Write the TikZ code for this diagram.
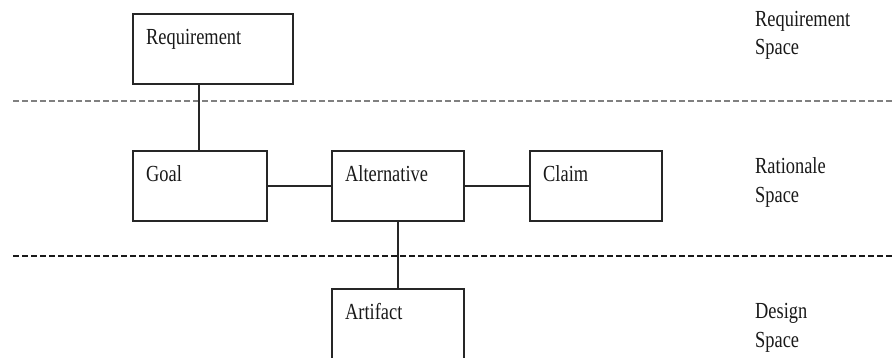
\documentclass[tikz,border=0pt]{standalone}
\usepackage{fontspec}
\setmainfont[FakeStretch=0.8]{Liberation Serif}
\usetikzlibrary{calc}
\begin{document}
\begin{tikzpicture}[x=1pt,y=-1pt,
  box/.style={draw=black!85,line width=2pt,rectangle,inner sep=0pt,minimum width=#1,minimum height=70pt},
  box/.default=132pt,
  lbl/.style={inner sep=0pt,anchor=base west,font=\fontsize{23}{27}\selectfont,text=black!90},
  conn/.style={draw=black!85,line width=2pt},
  sep/.style={line width=1.8pt,dash pattern=on 6pt off 3pt}]
\useasboundingbox (0,0) rectangle (893,358);
\clip (0,0) rectangle (893,358);
% separators
\coordinate (s1a) at (13,101);
\coordinate (s1b) at (893,101);
\coordinate (s2a) at (13,256);
\coordinate (s2b) at (893,256);
\draw[sep,draw=black!50] (s1a) -- (s1b);
\draw[sep,draw=black!90] (s2a) -- (s2b);
% boxes
\node[box=160pt] (req) at (213,49) {};
\node[box=134pt] (goal) at (200,186) {};
\node[box] (alt) at (398,186) {};
\node[box] (claim) at (596,186) {};
\node[box,minimum height=82pt] (art) at (398,330) {};
% labels
\node[lbl] at ($(req.north west)+(14,32)$) {Requirement};
\node[lbl] at ($(goal.north west)+(14,32)$) {Goal};
\node[lbl] at ($(alt.north west)+(14,32)$) {Alternative};
\node[lbl] at ($(claim.north west)+(14,32)$) {Claim};
\node[lbl] at ($(art.north west)+(14,31)$) {Artifact};
% space labels
\node[lbl] (rs1) at (755,27) {Requirement};
\node[lbl] (rs2) at (755,55) {Space};
\node[lbl] (ra1) at (755,173) {Rationale};
\node[lbl] (ra2) at (755,202) {Space};
\node[lbl] (ds1) at (755,318) {Design};
\node[lbl] (ds2) at (755,347) {Space};
% connectors
\draw[conn] ([xshift=67pt]req.south west) -- ([xshift=67pt]goal.north west);
\draw[conn] (goal.east) -- (alt.west);
\draw[conn] (alt.east) -- (claim.west);
\draw[conn] (alt.south) -- (art.north);
\end{tikzpicture}
\end{document}
